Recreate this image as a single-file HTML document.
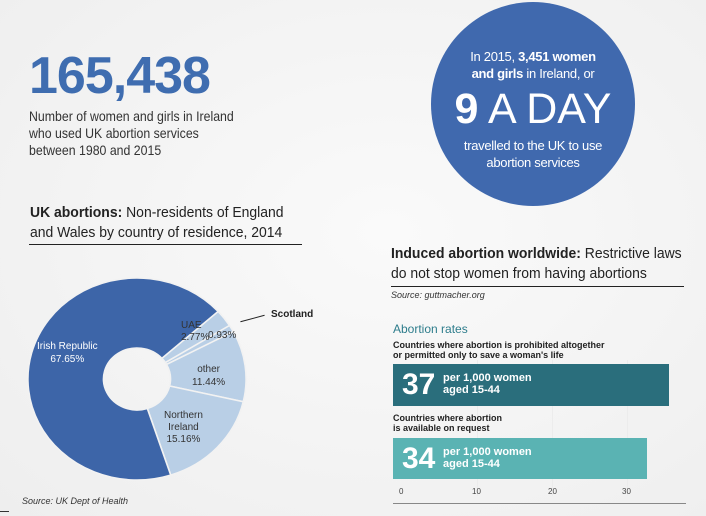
<!DOCTYPE html>
<html><head><meta charset="utf-8"><style>
body{margin:0;width:706px;height:516px;overflow:hidden;background:radial-gradient(ellipse at 55% 45%,#fafafa 0%,#eeeeee 100%);font-family:"Liberation Sans",sans-serif;position:relative;color:#222}
.a{position:absolute;white-space:nowrap}
.n{transform:scaleX(0.88);transform-origin:left top}
.h{transform:scaleX(0.93);transform-origin:left top}
</style></head><body>
<div class="a" style="left:29px;top:50px;font-size:52px;line-height:52px;font-weight:bold;color:#3f6db0;letter-spacing:-1px">165,438</div>
<div class="a n" style="left:29px;top:108px;font-size:14px;line-height:17px;color:#333">Number of women and girls in Ireland<br>who used UK abortion services<br>between 1980 and 2015</div>
<div class="a" style="left:431px;top:2px;width:204px;height:204px;border-radius:50%;background:#4069ae"></div>
<div class="a" style="left:431px;top:48px;width:204px;text-align:center;color:#fff;font-size:13px;line-height:17px;letter-spacing:-0.3px">In 2015, <b>3,451 women<br>and girls</b> in Ireland, or</div>
<div class="a" style="left:431px;top:86px;width:204px;text-align:center;color:#fff;font-size:43px;line-height:46px"><b>9</b> A DAY</div>
<div class="a" style="left:431px;top:137px;width:204px;text-align:center;color:#fff;font-size:13px;line-height:17px;letter-spacing:-0.3px">travelled to the UK to use<br>abortion services</div>
<div class="a h" style="left:30px;top:203px;font-size:15px;line-height:20px;color:#222"><b>UK abortions:</b> Non-residents of England<br>and Wales by country of residence, 2014</div>
<div class="a" style="left:29px;top:244px;width:273px;height:1px;background:#222"></div>
<div class="a h" style="left:391px;top:244px;font-size:15px;line-height:20px;color:#222"><b>Induced abortion worldwide:</b> Restrictive laws<br>do not stop women from having abortions</div>
<div class="a" style="left:391px;top:286px;width:293px;height:1px;background:#222"></div>
<div class="a" style="left:391px;top:290px;font-size:9px;font-style:italic;color:#333">Source: guttmacher.org</div>
<svg class="a" style="left:0;top:0" width="706" height="516" id="d"></svg>
<script>
var s=[[48,58,'#b9cfe6'],[58,62,'#b9cfe6'],[62,103,'#b9cfe6'],[103,162,'#b9cfe6'],[162,408,'#3d65a8']];
var h='<g transform="translate(137,379) scale(1.08,1)">';
function pt(a,r){a=(a-90)*Math.PI/180;return (r*Math.cos(a)).toFixed(2)+','+(r*Math.sin(a)).toFixed(2)}
s.forEach(function(x){var R=101,r=31,l=(x[1]-x[0])>180?1:0;
h+='<path d="M'+pt(x[0],R)+'A'+R+','+R+' 0 '+l+' 1 '+pt(x[1],R)+'L'+pt(x[1],r)+'A'+r+','+r+' 0 '+l+' 0 '+pt(x[0],r)+'Z" fill="'+x[2]+'" stroke="#f2f2f2" stroke-width="1.5"/>';});
h+='</g>';
document.getElementById('d').innerHTML=h;
</script>
<div class="a" style="left:37px;top:340px;font-size:10px;line-height:13px;color:#fff;text-align:center">Irish Republic<br>67.65%</div>
<div class="a" style="left:181px;top:320px;font-size:10px;line-height:12px;color:#333">UAE<br>2.77%</div>
<div class="a" style="left:208px;top:330px;font-size:10px;color:#333">0.93%</div>
<div class="a" style="left:192px;top:363px;font-size:10px;line-height:13px;color:#333;text-align:center">other<br>11.44%</div>
<div class="a" style="left:164px;top:410px;font-size:10px;line-height:12px;color:#333;text-align:center">Northern<br>Ireland<br>15.16%</div>
<div class="a" style="left:271px;top:309px;font-size:10px;font-weight:bold;color:#222">Scotland</div>
<div class="a" style="left:240px;top:318px;width:25px;height:1px;background:#222;transform:rotate(-15deg)"></div>
<div class="a" style="left:22px;top:496px;font-size:9px;font-style:italic;color:#333">Source: UK Dept of Health</div>
<div class="a" style="left:0;top:511px;width:9px;height:1px;background:#333"></div>
<div class="a" style="left:477px;top:360px;width:1px;height:136px;background:#ececec"></div>
<div class="a" style="left:552px;top:360px;width:1px;height:136px;background:#ececec"></div>
<div class="a" style="left:627px;top:360px;width:1px;height:136px;background:#ececec"></div>
<div class="a" style="left:393px;top:322px;font-size:12px;color:#2e7d8c">Abortion rates</div>
<div class="a" style="left:393px;top:340px;font-size:9px;line-height:10px;font-weight:bold;color:#222">Countries where abortion is prohibited altogether<br>or permitted only to save a woman's life</div>
<div class="a" style="left:393px;top:364px;width:276px;height:42px;background:#2a6e7c"></div>
<div class="a" style="left:402px;top:364px;font-size:30px;line-height:42px;font-weight:bold;color:#fff">37</div>
<div class="a" style="left:443px;top:372px;font-size:11px;line-height:12px;font-weight:bold;color:#fff">per 1,000 women<br>aged 15-44</div>
<div class="a" style="left:393px;top:413px;font-size:9px;line-height:10px;font-weight:bold;color:#222">Countries where abortion<br>is available on request</div>
<div class="a" style="left:393px;top:438px;width:254px;height:41px;background:#5ab3b3"></div>
<div class="a" style="left:402px;top:438px;font-size:30px;line-height:41px;font-weight:bold;color:#fff">34</div>
<div class="a" style="left:443px;top:446px;font-size:11px;line-height:12px;font-weight:bold;color:#fff">per 1,000 women<br>aged 15-44</div>
<div class="a" style="left:399px;top:487px;font-size:8px;color:#444">0</div>
<div class="a" style="left:472px;top:487px;font-size:8px;color:#444">10</div>
<div class="a" style="left:548px;top:487px;font-size:8px;color:#444">20</div>
<div class="a" style="left:622px;top:487px;font-size:8px;color:#444">30</div>
<div class="a" style="left:393px;top:503px;width:293px;height:1px;background:#888"></div>
</body></html>
